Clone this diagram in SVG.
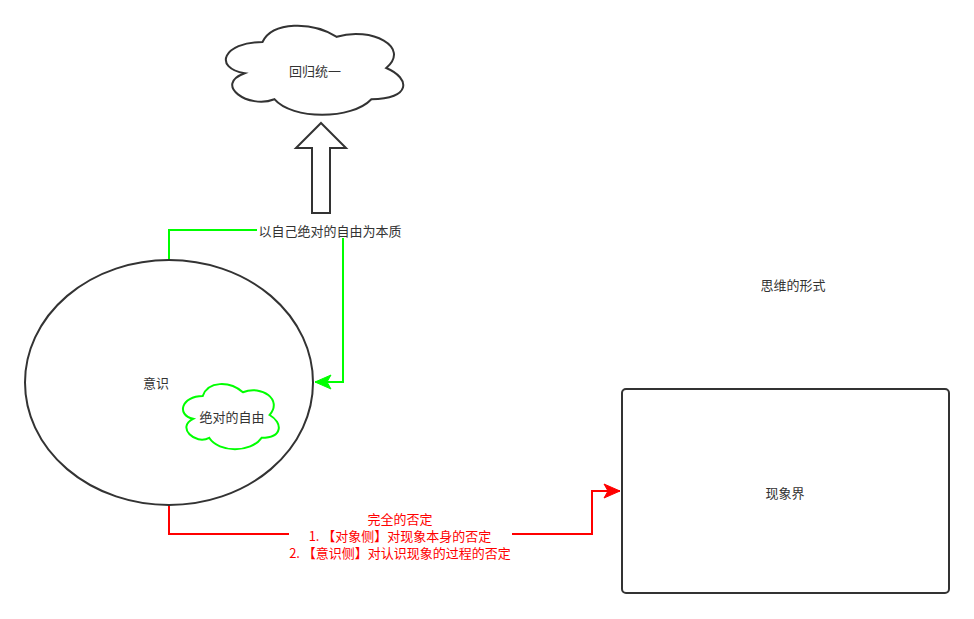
<svg xmlns="http://www.w3.org/2000/svg" width="974" height="619" viewBox="0 0 974 619">
<style>
text{font-family:"Noto Sans CJK SC","Liberation Sans",sans-serif;font-size:13px;fill:#333;text-anchor:middle;dominant-baseline:central}
.red{fill:#FF0000}
.shape{fill:#fff;stroke:#333;stroke-width:2}
</style>
<defs>
<marker id="ag" markerUnits="userSpaceOnUse" markerWidth="20" markerHeight="20" viewBox="0 0 20 20" refX="18" refY="10" orient="auto">
<path d="M2 3 L18 10 L2 17 L6 10 Z" fill="#00FF00" stroke="#00FF00"/>
</marker>
<marker id="ar" markerUnits="userSpaceOnUse" markerWidth="20" markerHeight="20" viewBox="0 0 20 20" refX="18" refY="10" orient="auto">
<path d="M2 3 L18 10 L2 17 L6 10 Z" fill="#FF0000" stroke="#FF0000"/>
</marker>
</defs>
<rect width="974" height="619" fill="#fff"/>
<g id="connectors" fill="none" stroke-width="2">
<path d="M169 260 V230 H343 V382 H315" stroke="#00FF00" marker-end="url(#ag)"/>
<path d="M169 505 V534 H592 V491 H620" stroke="#FF0000" marker-end="url(#ar)"/>
<polygon points="321,123 346,148 330,148 330,213 312,213 312,148 296,148" fill="#fff" stroke="#333"/>
</g>
<g id="cloud-unity">
<path class="shape" d="M262.5 42 C222.9 42 213 68 244.7 73.2 C213 84.6 248.6 109.6 274.4 99.2 C292.2 120 351.6 120 371.4 99.2 C411 99.2 411 78.4 386.25 68 C411 47.2 371.4 26.4 336.75 36.8 C312 21.2 272.4 21.2 262.5 42 Z"/>
<text x="315" y="70">回归统一</text>
</g>
<g id="consciousness">
<ellipse class="shape" cx="169" cy="382.5" rx="144" ry="122.5"/>
<text x="156" y="382">意识</text>
</g>
<g id="cloud-freedom">
<path d="M202.75 396 C181.35 396 176 415 193.12 418.8 C176 427.16 195.26 445.4 209.17 437.8 C218.8 453 250.9 453 261.6 437.8 C283 437.8 283 422.6 269.6 415 C283 399.8 261.6 384.6 242.9 392.2 C229.5 380.8 208.1 380.8 202.75 396 Z" fill="#fff" stroke="#00FF00" stroke-width="2"/>
<text x="232" y="416">绝对的自由</text>
</g>
<g id="label-essence">
<rect x="257" y="222" width="146" height="16" fill="#fff"/>
<text x="330" y="230">以自己绝对的自由为本质</text>
</g>
<g id="label-negation">
<rect x="289" y="509" width="223" height="52" fill="#fff"/>
<text class="red" x="400" y="518">完全的否定</text>
<text class="red" x="400" y="535">1. 【对象侧】对现象本身的否定</text>
<text class="red" x="400" y="552">2. 【意识侧】对认识现象的过程的否定</text>
</g>
<g id="phenomena">
<rect class="shape" x="622" y="389" width="327" height="204" rx="4"/>
<text x="785" y="492">现象界</text>
</g>
<g id="form-label">
<text x="793" y="284">思维的形式</text>
</g>
</svg>
